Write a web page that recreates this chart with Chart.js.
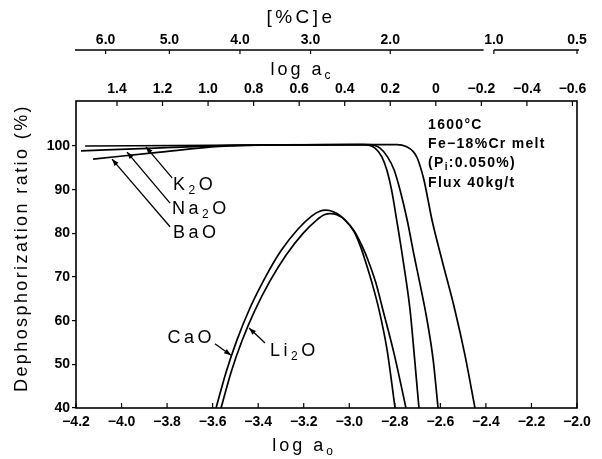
<!DOCTYPE html>
<html>
<head>
<meta charset="utf-8">
<script src="https://cdn.jsdelivr.net/npm/chart.js@4.4.0/dist/chart.umd.min.js"></script>
<style>
  html, body { margin: 0; padding: 0; background: #fff; }
  #wrap { width: 602px; height: 459px; }
</style>
</head>
<body>
<div id="wrap"><canvas id="c" width="602" height="459"></canvas></div>
<script>
// ---------- data ----------
const logAoTicks = [-4.2, -4.0, -3.8, -3.6, -3.4, -3.2, -3.0, -2.8, -2.6, -2.4, -2.2, -2.0];
const logAcTicks = [1.4, 1.2, 1.0, 0.8, 0.6, 0.4, 0.2, 0, -0.2, -0.4, -0.6];
const yTicks = [40, 50, 60, 70, 80, 90, 100];
const carbonLabels = ['6.0', '5.0', '4.0', '3.0', '2.0', '1.0', '0.5'];
const carbonAtLogAo = [-4.07, -3.79, -3.48, -3.17, -2.82, -2.365, -2.0];
const carbonAxisBreak = [-2.41, -2.365];
const logAcOffset = -2.62; // log ac = logAcOffset - log ao

const k2oX = [-4.16, -3.60, -3.00, -2.790, -2.748, -2.719, -2.702, -2.689, -2.672, -2.654, -2.637, -2.593, -2.536, -2.492, -2.448];
const k2oY = [100.0, 100.15, 100.3, 100.3, 99.8, 98.7, 97.3, 95.4, 92.2, 87.6, 83.1, 73.9, 62.4, 52.1, 40];

const na2oX = [-4.178, -3.85, -3.55, -3.20, -2.918, -2.865, -2.832, -2.803, -2.777, -2.746, -2.716, -2.689, -2.659, -2.632, -2.610];
const na2oY = [98.9, 99.5, 100.1, 100.25, 100.3, 99.5, 97.5, 94.5, 89.9, 83.1, 75.1, 68.3, 60.3, 51.2, 40];

const baoX = [-4.125, -3.83, -3.57, -3.30, -2.940, -2.887, -2.857, -2.835, -2.814, -2.792, -2.764, -2.733, -2.713, -2.694];
const baoY = [97.0, 98.6, 99.9, 100.25, 100.3, 99.5, 97.5, 94.5, 89.9, 83.1, 73.9, 62.4, 51.2, 40];

const caoX = [-3.585, -3.541, -3.493, -3.436, -3.370, -3.300, -3.225, -3.164, -3.130, -3.103, -3.070, -3.040, -3.019, -2.979, -2.944, -2.918, -2.883, -2.852, -2.803, -2.751];
const caoY = [40, 48.2, 55.6, 62.9, 69.8, 76.0, 81.0, 84.0, 85.05, 85.3, 84.95, 84.05, 83.1, 80.6, 77.1, 73.9, 68.6, 62.4, 52.4, 40];

const li2oX = [-3.563, -3.519, -3.471, -3.414, -3.348, -3.278, -3.203, -3.142, -3.110, -3.083, -3.055, -3.020, -2.979, -2.948, -2.931, -2.900, -2.869, -2.834, -2.799];
const li2oY = [40, 48.2, 55.4, 62.4, 69.1, 75.0, 80.0, 83.1, 84.25, 84.5, 84.25, 83.1, 80.4, 76.6, 73.9, 68.6, 62.4, 53.3, 40];

// ---------- helpers ----------
const FAM = "'Liberation Sans', Arial, sans-serif";
const pts = (xs, ys) => xs.map((x, i) => ({ x: x, y: ys[i] }));
const fmt = v => (Math.abs(v) < 1e-9 ? '0' : (v < 0 ? '\u2212' : '') + Math.abs(v).toFixed(1));
const series = (label, xs, ys) => ({
  label, data: pts(xs, ys), borderColor: '#000', borderWidth: 1.7,
  pointRadius: 0, fill: false, cubicInterpolationMode: 'monotone'
});

// rich text: parts = [[text, isSub], ...]
function fontOf(fs, sub, bold) {
  return (bold ? 'bold ' : '') + (sub ? Math.round(fs * 0.68) : fs) + 'px ' + FAM;
}
function richWidth(ctx, parts, fs, ls, bold) {
  let w = 0;
  for (const [t, sub] of parts) {
    ctx.font = fontOf(fs, sub, bold);
    ctx.letterSpacing = ls + 'px';
    w += ctx.measureText(t).width;
  }
  return w;
}
function drawRich(ctx, parts, x, cy, fs, ls, align, bold) {
  const w = richWidth(ctx, parts, fs, ls, bold);
  let cx = align === 'center' ? x - w / 2 : (align === 'right' ? x - w : x);
  const base = cy + fs * 0.36;
  ctx.textAlign = 'left';
  ctx.textBaseline = 'alphabetic';
  ctx.fillStyle = '#000';
  for (const [t, sub] of parts) {
    ctx.font = fontOf(fs, sub, bold);
    ctx.letterSpacing = ls + 'px';
    ctx.fillText(t, cx, sub ? base + fs * 0.22 : base);
    cx += ctx.measureText(t).width;
  }
  ctx.letterSpacing = '0px';
}
function arrow(ctx, x1, y1, x2, y2) {
  ctx.beginPath(); ctx.moveTo(x1, y1); ctx.lineTo(x2, y2); ctx.stroke();
  const a = Math.atan2(y2 - y1, x2 - x1), L = 7, W = 2.6;
  ctx.beginPath();
  ctx.moveTo(x2, y2);
  ctx.lineTo(x2 - L * Math.cos(a) + W * Math.sin(a), y2 - L * Math.sin(a) - W * Math.cos(a));
  ctx.lineTo(x2 - L * Math.cos(a) - W * Math.sin(a), y2 - L * Math.sin(a) + W * Math.cos(a));
  ctx.closePath(); ctx.fill();
}

// annotation texts / arrows (in data units)
const labels = [
  { parts: [['K'], ['2', 1], ['O']], x: -3.774, y: 91.5, align: 'left', fs: 18, ls: 3.5 },
  { parts: [['Na'], ['2', 1], ['O']], x: -3.778, y: 85.8, align: 'left', fs: 18, ls: 3.5 },
  { parts: [['BaO']], x: -3.774, y: 80.3, align: 'left', fs: 18, ls: 3.5 },
  { parts: [['CaO']], x: -3.59, y: 56.3, align: 'right', fs: 18, ls: 3.5 },
  { parts: [['Li'], ['2', 1], ['O']], x: -3.348, y: 53.3, align: 'left', fs: 18, ls: 3.5 },
  { parts: [['1600°C']], x: -2.654, y: 105.0, align: 'left', fs: 14, ls: 1.3, bold: true },
  { parts: [['Fe\u221218%Cr melt']], x: -2.654, y: 100.8, align: 'left', fs: 14, ls: 1.3, bold: true },
  { parts: [['(P'], ['i', 1], [':0.050%)']], x: -2.654, y: 96.3, align: 'left', fs: 14, ls: 1.3, bold: true },
  { parts: [['Flux 40kg/t']], x: -2.654, y: 91.7, align: 'left', fs: 14, ls: 1.3, bold: true }
];
const arrows = [
  [-3.778, 92.7, -3.893, 99.8],
  [-3.787, 86.9, -3.976, 98.6],
  [-3.787, 81.5, -4.042, 97.0],
  [-3.590, 54.7, -3.519, 52.1],
  [-3.370, 54.9, -3.440, 58.3]
];

const decor = {
  id: 'decor',
  afterDraw(chart) {
    const ctx = chart.ctx, a = chart.chartArea;
    const sx = chart.scales.x, sy = chart.scales.y, s2 = chart.scales.x2, s3 = chart.scales.x3;
    ctx.save();
    ctx.strokeStyle = '#000'; ctx.fillStyle = '#000';
    // frame
    ctx.lineWidth = 1.6;
    ctx.strokeRect(a.left, a.top, a.right - a.left, a.bottom - a.top);
    ctx.lineWidth = 1.2;
    // bottom ticks (inside)
    for (const v of logAoTicks) {
      const px = sx.getPixelForValue(v);
      ctx.beginPath(); ctx.moveTo(px, a.bottom); ctx.lineTo(px, a.bottom - 5); ctx.stroke();
    }
    // top ticks (inside)
    for (const v of logAcTicks) {
      const px = s2.getPixelForValue(v);
      ctx.beginPath(); ctx.moveTo(px, a.top); ctx.lineTo(px, a.top + 5); ctx.stroke();
    }
    // [%C]e axis line with break
    const ly = s3.bottom - 2;
    ctx.lineWidth = 1.4;
    ctx.beginPath();
    ctx.moveTo(s3.getPixelForValue(-4.2) - 1, ly); ctx.lineTo(s3.getPixelForValue(carbonAxisBreak[0]), ly);
    ctx.moveTo(s3.getPixelForValue(carbonAxisBreak[1]), ly); ctx.lineTo(s3.getPixelForValue(-2.0) + 2, ly);
    ctx.stroke();
    ctx.lineWidth = 1.2;
    for (const v of carbonAtLogAo) {
      const px = s3.getPixelForValue(v);
      ctx.beginPath(); ctx.moveTo(px, ly); ctx.lineTo(px, ly + 4); ctx.stroke();
    }
    // axis titles
    drawRich(ctx, [['[%C]e']], 301, 16, 19, 3.5, 'center');
    drawRich(ctx, [['log a'], ['c', 1]], 302, 69, 18, 3, 'center');
    drawRich(ctx, [['log a'], ['o', 1]], 304, 445, 18, 3, 'center');
    // y title
    ctx.save();
    ctx.translate(21, 248);
    ctx.rotate(-Math.PI / 2);
    drawRich(ctx, [['Dephosphorization ratio (%)']], 0, 0, 18, 2.4, 'center');
    ctx.restore();
    // annotations
    for (const l of labels) {
      drawRich(ctx, l.parts, sx.getPixelForValue(l.x), sy.getPixelForValue(l.y), l.fs, l.ls, l.align, l.bold);
    }
    ctx.lineWidth = 1.3;
    for (const [x1, y1, x2, y2] of arrows) {
      arrow(ctx, sx.getPixelForValue(x1), sy.getPixelForValue(y1), sx.getPixelForValue(x2), sy.getPixelForValue(y2));
    }
    ctx.restore();
  }
};

const tickFont = { family: FAM, size: 14, weight: 'bold' };

new Chart(document.getElementById('c'), {
  type: 'line',
  data: {
    datasets: [
      series('K2O', k2oX, k2oY),
      series('Na2O', na2oX, na2oY),
      series('BaO', baoX, baoY),
      series('CaO', caoX, caoY),
      series('Li2O', li2oX, li2oY)
    ]
  },
  options: {
    responsive: false,
    animation: false,
    devicePixelRatio: 1,
    layout: { padding: { left: 0, right: 25, top: 0, bottom: 0 } },
    plugins: { legend: { display: false }, tooltip: { enabled: false } },
    scales: {
      x: {
        type: 'linear', position: 'bottom', min: -4.2, max: -2.0,
        afterBuildTicks: s => { s.ticks = logAoTicks.map(v => ({ value: v })); },
        afterFit: s => { s.height = 51; },
        grid: { display: false, drawTicks: false }, border: { display: false },
        ticks: { padding: 6, color: '#000', font: tickFont, autoSkip: false, maxRotation: 0, minRotation: 0, callback: v => fmt(v) }
      },
      x2: {
        type: 'linear', position: 'top', weight: 0,
        min: logAcOffset + 2.0, max: logAcOffset + 4.2, reverse: true,
        afterBuildTicks: s => { s.ticks = logAcTicks.map(v => ({ value: v })); },
        afterFit: s => { s.height = 49; },
        grid: { display: false, drawTicks: false }, border: { display: false },
        ticks: { padding: 3, color: '#000', font: tickFont, autoSkip: false, maxRotation: 0, minRotation: 0, callback: v => fmt(v) }
      },
      x3: {
        type: 'linear', position: 'top', weight: 1, min: -4.2, max: -2.0,
        afterBuildTicks: s => { s.ticks = carbonAtLogAo.map(v => ({ value: v })); },
        afterFit: s => { s.height = 52; },
        grid: { display: false, drawTicks: false }, border: { display: false },
        ticks: { padding: 3, color: '#000', font: tickFont, autoSkip: false, maxRotation: 0, minRotation: 0,
                 callback: (v, i) => carbonLabels[i] }
      },
      y: {
        type: 'linear', position: 'left', min: 40, max: 110.3,
        afterBuildTicks: s => { s.ticks = yTicks.map(v => ({ value: v })); },
        afterFit: s => { s.width = 76; },
        grid: { display: true, drawOnChartArea: false, drawTicks: true, tickLength: 4, color: '#000', lineWidth: 1.2 },
        border: { display: false },
        ticks: { padding: 2, color: '#000', font: tickFont, callback: v => String(v) }
      }
    }
  },
  plugins: [decor]
});
</script>
</body>
</html>
